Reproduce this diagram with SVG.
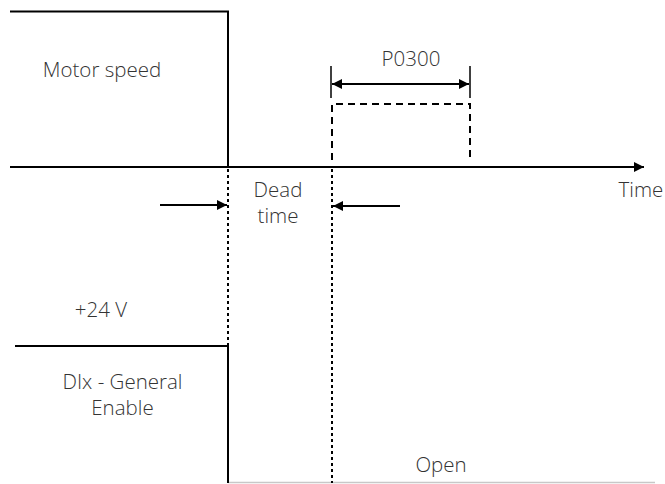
<svg xmlns="http://www.w3.org/2000/svg" width="665" height="484" viewBox="0 0 665 484">
<defs>
<marker id="ah" viewBox="0 0 10 10" refX="10" refY="5" markerWidth="10" markerHeight="10" markerUnits="userSpaceOnUse" orient="auto-start-reverse">
<path d="M0,0 L10,5 L0,10 Z" fill="#000"/>
</marker>
<style>
.lbl{font-family:"Open Sans","Liberation Sans",sans-serif;font-size:20.5px;font-weight:300;fill:#333;text-anchor:middle}
.sig{fill:none;stroke:#000;stroke-width:2}
.dot{fill:none;stroke:#000;stroke-width:2;stroke-dasharray:3,3}
.dash{fill:none;stroke:#000;stroke-width:2;stroke-dasharray:7,5}
.arr{fill:none;stroke:#000;stroke-width:2}
</style>
</defs>
<rect width="665" height="484" fill="#fff"/>
<g id="motor-speed">
<path class="sig" d="M10,11.5 H228 V167"/>
<text class="lbl" x="102" y="77">Motor speed</text>
</g>
<g id="p0300-pulse">
<path class="dash" d="M332,160 V104 H470 V160"/>
<line x1="332" y1="167" x2="470" y2="167" stroke="#777" stroke-width="2"/>
</g>
<g id="time-axis">
<line class="arr" x1="10" y1="167" x2="644" y2="167" marker-end="url(#ah)"/>
<text class="lbl" x="641" y="197">Time</text>
</g>
<g id="dead-time">
<text class="lbl" x="278" y="197">Dead</text>
<text class="lbl" x="278" y="223">time</text>
</g>
<g id="p0300">
<text class="lbl" x="411" y="66">P0300</text>
</g>
<g id="dix-enable">
<path class="sig" d="M15,346 H228 V483"/>
<line x1="228" y1="482.5" x2="655" y2="482.5" stroke="#c8c8c8" stroke-width="1.5"/>
<text class="lbl" x="101" y="317">+24 V</text>
<text class="lbl" x="122.5" y="388.5">DIx - General</text>
<text class="lbl" x="122.5" y="414.5">Enable</text>
<text class="lbl" x="441" y="472">Open</text>
</g>
<g id="connectors">
<line class="dot" x1="228" y1="169" x2="228" y2="483"/>
<line class="dot" x1="332" y1="169" x2="332" y2="483"/>
<line class="arr" x1="160" y1="205" x2="227" y2="205" marker-end="url(#ah)"/>
<line class="arr" x1="400" y1="206" x2="333" y2="206" marker-end="url(#ah)"/>
<line x1="331" y1="66" x2="331" y2="98" stroke="#000" stroke-width="1.5"/>
<line x1="470" y1="66" x2="470" y2="98" stroke="#000" stroke-width="1.5"/>
<line class="arr" x1="332" y1="84" x2="469" y2="84" marker-start="url(#ah)" marker-end="url(#ah)"/>
</g>
</svg>
